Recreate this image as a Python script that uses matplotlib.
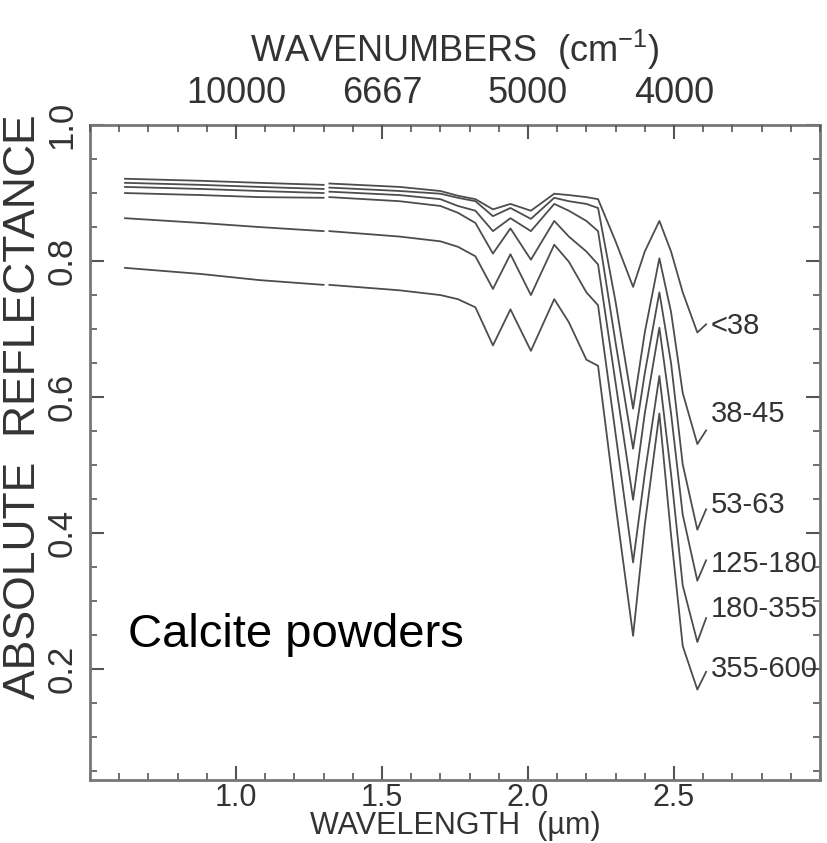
import numpy as np
import matplotlib
matplotlib.use('Agg')
from matplotlib import pyplot as plt
from matplotlib.ticker import MultipleLocator

plt.rcParams['font.family'] = ['Liberation Sans', 'DejaVu Sans']
plt.rcParams['mathtext.default'] = 'regular'

# wavelength grid (um); nan in the curves marks the detector gap near 1.3 um
wavelength = [0.62, 0.88, 1.08, 1.30, 1.31, 1.32, 1.56, 1.70, 1.76, 1.82, 1.88, 1.94, 2.01,
              2.09, 2.14, 2.20, 2.24, 2.30, 2.36, 2.40, 2.45, 2.49, 2.53, 2.58, 2.61]
nan = np.nan
r_lt38 = [0.921, 0.918, 0.915, 0.912, nan, 0.914, 0.909, 0.903, 0.896, 0.891, 0.876, 0.884, 0.874,
          0.899, 0.897, 0.894, 0.891, 0.829, 0.762, 0.814, 0.859, 0.814, 0.754, 0.695, 0.707]
r_38_45 = [0.915, 0.912, 0.909, 0.906, nan, 0.908, 0.903, 0.899, 0.893, 0.888, 0.866, 0.878, 0.862,
           0.893, 0.888, 0.884, 0.878, 0.740, 0.583, 0.695, 0.804, 0.725, 0.606, 0.531, 0.551]
r_53_63 = [0.909, 0.906, 0.903, 0.900, nan, 0.902, 0.897, 0.891, 0.881, 0.874, 0.844, 0.863, 0.844,
           0.884, 0.874, 0.859, 0.844, 0.680, 0.524, 0.635, 0.754, 0.650, 0.501, 0.405, 0.435]
r_125_180 = [0.900, 0.897, 0.894, 0.893, nan, 0.894, 0.888, 0.881, 0.871, 0.856, 0.811, 0.848, 0.802,
             0.859, 0.836, 0.814, 0.795, 0.621, 0.449, 0.576, 0.702, 0.576, 0.427, 0.330, 0.360]
r_180_355 = [0.863, 0.856, 0.850, 0.844, nan, 0.844, 0.836, 0.829, 0.821, 0.807, 0.759, 0.810, 0.750,
             0.824, 0.799, 0.754, 0.735, 0.546, 0.357, 0.487, 0.631, 0.487, 0.323, 0.240, 0.275]
r_355_600 = [0.790, 0.781, 0.772, 0.765, nan, 0.765, 0.757, 0.750, 0.744, 0.732, 0.676, 0.729, 0.668,
             0.744, 0.710, 0.655, 0.646, 0.442, 0.249, 0.412, 0.576, 0.397, 0.234, 0.170, 0.196]

curves = [r_lt38, r_38_45, r_53_63, r_125_180, r_180_355, r_355_600]
labels = ['<38', '38-45', '53-63', '125-180', '180-355', '355-600']
label_y = [0.705, 0.575, 0.442, 0.355, 0.288, 0.200]

top_ticks = [1.0, 1.5, 2.0, 2.5]
top_labels = ['10000', '6667', '5000', '4000']

fig = plt.figure(figsize=(8.27, 8.43), dpi=100)
ax = fig.add_axes([0.1088, 0.0747, 0.8827, 0.777])

for r in curves:
    ax.plot(wavelength, r, color='#4d4d4d', lw=1.3)

for lab, y in zip(labels, label_y):
    ax.text(2.625, y, lab, fontsize=21, color='#333333', ha='left', va='center')

ax.text(0.63, 0.25, 'Calcite powders', fontsize=34, color='black', ha='left', va='center')

ax.set_xlim(0.5, 3.0)
ax.set_ylim(0.037, 1.0)
ax.xaxis.set_minor_locator(MultipleLocator(0.1))
ax.yaxis.set_minor_locator(MultipleLocator(0.05))
ax.set_xticks([1.0, 1.5, 2.0, 2.5])
ax.set_xticklabels(['1.0', '1.5', '2.0', '2.5'])
ax.set_yticks([0.2, 0.4, 0.6, 0.8, 1.0])
ax.set_yticklabels(['0.2', '0.4', '0.6', '0.8', '1.0'], rotation=90, va='center')
ax.tick_params(which='both', direction='in', right=True, colors='#555555', labelcolor='#333333')
ax.tick_params(which='major', length=10, width=1.5, labelsize=25)
ax.tick_params(which='minor', length=5, width=1.2)
ax.tick_params(axis='x', labelsize=22, pad=2)
ax.tick_params(axis='y', pad=8)
for s in ax.spines.values():
    s.set_color('#777777')
    s.set_linewidth(2)

ax.set_xlabel('WAVELENGTH  (µm)', fontsize=22, color='#333333', labelpad=-1)
ax.set_ylabel('ABSOLUTE  REFLECTANCE', fontsize=32, color='#333333')
ax.yaxis.set_label_coords(-0.063, 0.57)

ax2 = ax.twiny()
ax2.set_xlim(ax.get_xlim())
ax2.set_xticks(top_ticks)
ax2.set_xticklabels(top_labels)
ax2.xaxis.set_minor_locator(MultipleLocator(0.1))
ax2.tick_params(which='both', direction='in', colors='#555555', labelcolor='#333333')
ax2.tick_params(which='major', length=10, width=1.5, labelsize=26, pad=10)
ax2.tick_params(which='minor', length=5, width=1.2)
ax2.set_xlabel('WAVENUMBERS  (cm$^{-1}$)', fontsize=26, color='#333333', labelpad=10)
for s in ax2.spines.values():
    s.set_visible(False)

fig.savefig('out.png', dpi=100)
